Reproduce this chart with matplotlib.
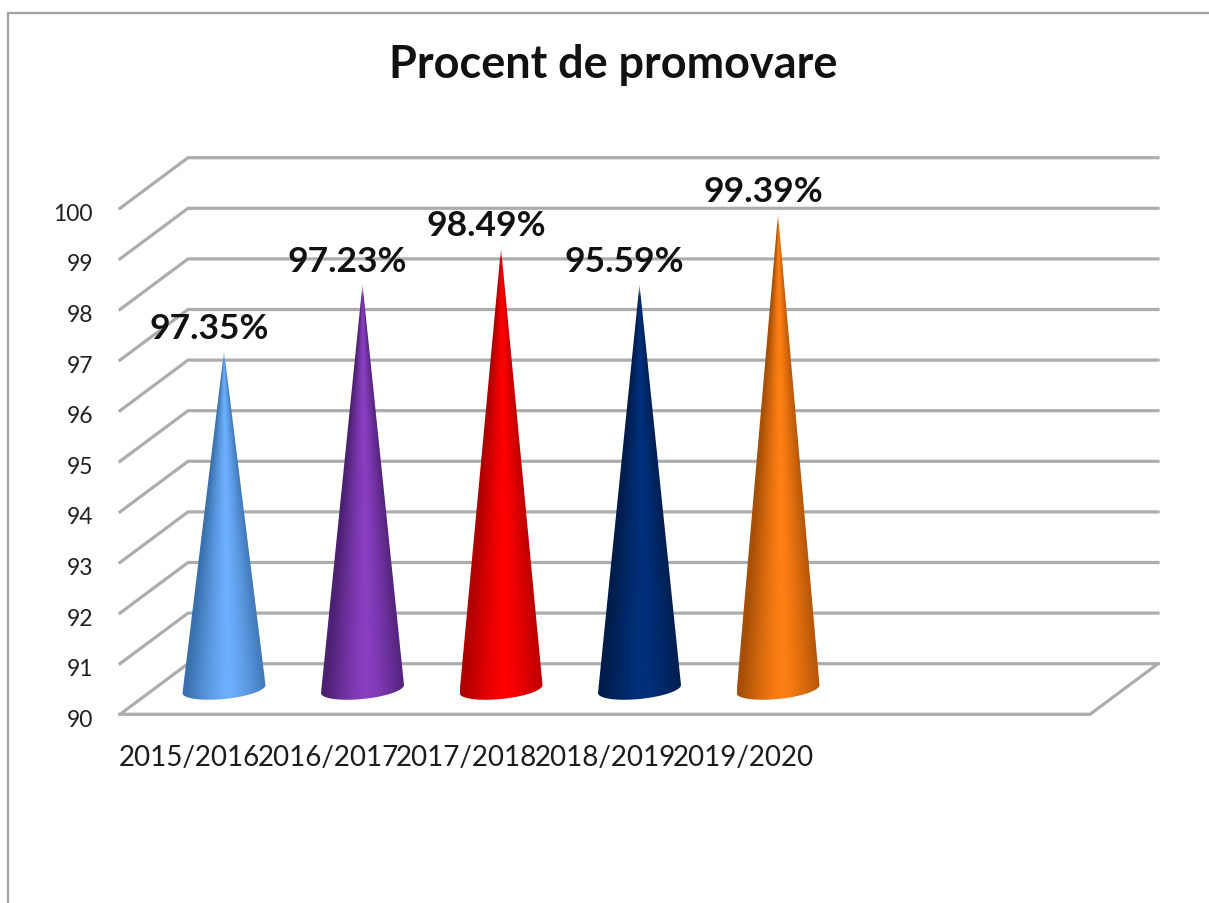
import numpy as np
import matplotlib
matplotlib.use("Agg")
import matplotlib.pyplot as plt
from matplotlib.colors import to_rgb
from matplotlib.patches import Polygon

plt.rcParams['font.family'] = ['Lato', 'DejaVu Sans']

title = "Procent de promovare"
years = ["2015/2016", "2016/2017", "2017/2018", "2018/2019", "2019/2020"]
# cone heights as drawn, they do not agree with the printed labels
cone_values = [96.68, 98.0, 98.72, 98.0, 99.39]
labels = ["97.35%", "97.23%", "98.49%", "95.59%", "99.39%"]
yticks = [90, 91, 92, 93, 94, 95, 96, 97, 98, 99, 100]
edge_colors = ["#3a70ad", "#4c2072", "#b00000", "#001c4a", "#a84f06"]
mid_colors = ["#6db0ff", "#8a3fc2", "#ff0000", "#00307c", "#ff8014"]

W, H = 1209, 904
PX_X = 138.5  # pixels per category
PX_Y = 50.6   # pixels per unit

fig = plt.figure(figsize=(W / 100, H / 100), dpi=100, facecolor="white")
ax = fig.add_axes([0, 0, 1, 1])
ax.axis("off")
xlim = (-224 / PX_X, (W - 224) / PX_X)
ylim = (90 - (H - 690) / PX_Y, 90 + 690 / PX_Y)

# depth of the 3d floor, half to the front and half to the back
dx = 34 / PX_X
dy = 25.3 / PX_Y
x_left = (154 - 224) / PX_X
x_right = (1124 - 224) / PX_X
grid = "#adadad"

# frame
ax.plot([8 / W, 8 / W, 1], [0, 1 - 14 / H, 1 - 14 / H], color="#a0a0a0", lw=1.6,
        transform=ax.transAxes, clip_on=False)

# walls
for v in yticks:
    ax.plot([x_left - dx, x_left + dx, x_right + dx], [v - dy, v + dy, v + dy],
            color=grid, lw=2.3, solid_joinstyle="miter", zorder=1)
    ax.text(x_left - dx - 27 / PX_X, v - dy - 5 / PX_Y, str(v), ha="right", va="center",
            fontsize=16.5, color="#202020")
ax.plot([x_left - dx, x_right - dx, x_right + dx], [90 - dy, 90 - dy, 90 + dy],
        color=grid, lw=2.3, solid_joinstyle="miter", zorder=1)

# cones
a = 41.5 / PX_X
b = 10 / PX_Y
tilt = 4 / PX_Y
for i, top in enumerate(cone_values):
    t = np.linspace(np.pi, 2 * np.pi, 60)
    xs = i + a * np.cos(t)
    ys = 90 + tilt * np.cos(t) + b * np.sin(t)
    outline = np.vstack([np.column_stack([xs, ys]), [i, top]])

    # shading follows the width of the cone
    gx = np.linspace(i - a, i + a, 170)
    gy = np.linspace(90 - b - 0.05, top, 500)
    xx, yy = np.meshgrid(gx, gy)
    half = a * np.clip((top - yy) / (top - 90), 0.001, 1)
    u = np.clip(np.abs(xx - i - 0.1 * half) / half, 0, 1) ** 1.3
    rgba = np.ones(xx.shape + (4,))
    for c in range(3):
        rgba[..., c] = to_rgb(mid_colors[i])[c] * (1 - u) + to_rgb(edge_colors[i])[c] * u
    rgba[..., 3] = np.clip((top - yy) / 0.3 + 0.25, 0, 1)
    im = ax.imshow(rgba, extent=(i - a, i + a, gy[0], gy[-1]), origin="lower",
                   aspect="auto", interpolation="bilinear", zorder=3)
    im.set_clip_path(Polygon(outline, closed=True, transform=ax.transData))

    ax.text(i - 15 / PX_X, top + 23 / PX_Y, labels[i], ha="center", va="center",
            fontsize=25.5, fontweight="bold", color="#111111", zorder=5)
    ax.text(i - dx - 0.5 / PX_X, 90 - 68 / PX_Y, years[i], ha="center", va="center",
            fontsize=20, color="#1c1c1c", zorder=5)

ax.set_xlim(xlim)
ax.set_ylim(ylim)
ax.text(613 / W, 1 - 65 / H, title, ha="center", va="center", fontsize=32.4,
        fontweight="bold", color="#111111", transform=ax.transAxes)

fig.savefig("out.png", dpi=100, facecolor="white")
